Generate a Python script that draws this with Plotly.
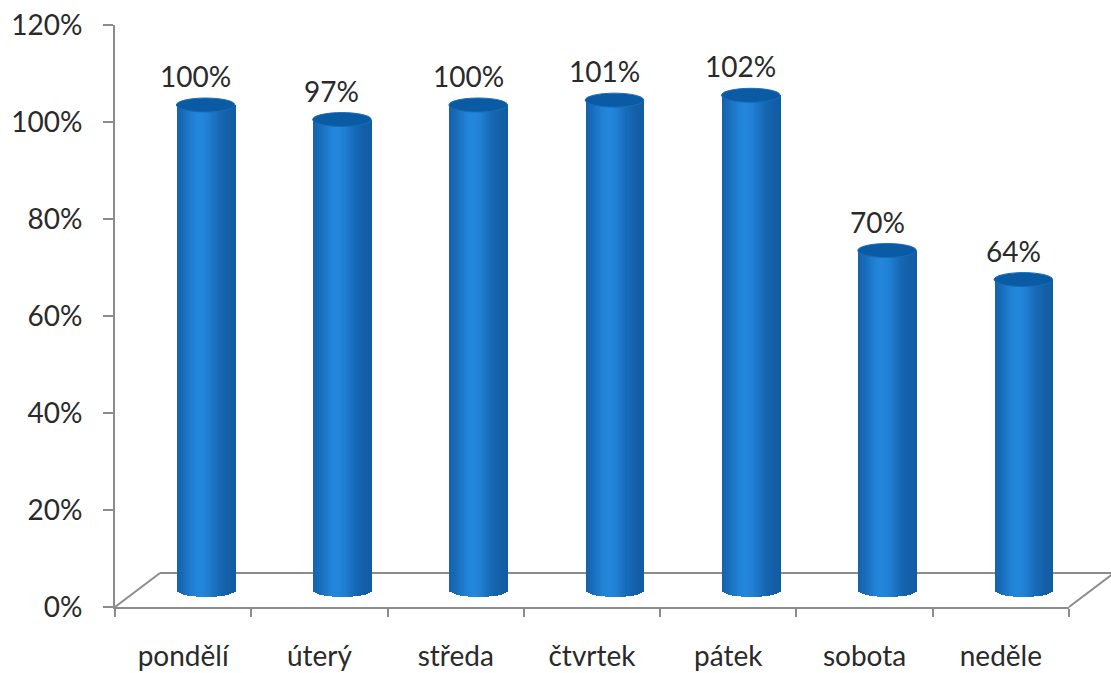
import math
import plotly.graph_objects as go

# ---- data ----
days = ["pondělí", "úterý", "středa", "čtvrtek", "pátek", "sobota", "neděle"]
values = [100, 97, 100, 101, 102, 70, 64]
y_ticks = [0, 20, 40, 60, 80, 100, 120]
y_tick_text = ["0%", "20%", "40%", "60%", "80%", "100%", "120%"]

# ---- layout geometry ----
W, H = 1111, 673
ML, MR, MT, MB = 115, 0, 8, 66
PW, PH = W - ML - MR, H - MT - MB
AX_W = 954          # px width of front axis
AX_H = 582          # px height of y axis
DX, DY = 45, 34     # depth of 3D floor
YMAX = 120
px_per_unit = AX_H / YMAX

cyl_w = 0.43                     # cylinder width in category units
ell_h = 14 / px_per_unit         # ellipse height in data units
N = 28                           # slices for shading

FONT = "Lato"
FS = 28
TXT = "#2a2a2a"
AXC = "#8c8c8c"

def shade(u):
    # u in [-1, 1] across the cylinder
    edge = (8, 70, 135)
    peak = (35, 135, 220)
    t = math.exp(-((u + 0.2) ** 2) / 0.35)
    t = 0.35 + 0.65 * t
    c = [int(edge[k] + (peak[k] - edge[k]) * t) for k in range(3)]
    return f"rgb({c[0]},{c[1]},{c[2]})"

fig = go.Figure()

sw = cyl_w / N
for j in range(N):
    u = -1 + (2 * j + 1) / N
    sag = (ell_h / 2) * math.sqrt(max(0.0, 1 - u * u))
    off = -cyl_w / 2 + j * sw
    fig.add_trace(go.Bar(
        x=days, y=[v + sag for v in values], base=[-sag] * len(values),
        width=sw * 1.08, offset=off,
        marker=dict(color=shade(u), line=dict(width=0)),
        xaxis="x2", yaxis="y2", showlegend=False, hoverinfo="skip",
    ))

# invisible trace on main axes so they render
fig.add_trace(go.Scatter(x=days, y=[None] * len(days), xaxis="x", yaxis="y",
                         mode="markers", showlegend=False, hoverinfo="skip"))

shapes = []
# 3D floor
fx = DX / PW
fy = DY / PH
axr = AX_W / PW
shapes.append(dict(type="line", xref="paper", yref="paper", x0=fx, y0=fy, x1=axr + fx, y1=fy,
                   line=dict(color=AXC, width=2), layer="below"))
shapes.append(dict(type="line", xref="paper", yref="paper", x0=0, y0=0, x1=fx, y1=fy,
                   line=dict(color=AXC, width=2), layer="below"))
shapes.append(dict(type="line", xref="paper", yref="paper", x0=axr, y0=0, x1=axr + fx, y1=fy,
                   line=dict(color=AXC, width=2), layer="below"))

annotations = []
for i, v in enumerate(values):
    shapes.append(dict(type="circle", xref="x2", yref="y2",
                       x0=i - cyl_w / 2, x1=i + cyl_w / 2,
                       y0=v - ell_h / 2, y1=v + ell_h / 2,
                       fillcolor="#0b5aa4", line=dict(color="#1a6cb8", width=1), layer="above"))
    annotations.append(dict(x=i, y=v, xref="x2", yref="y2", text=f"{v}%",
                            showarrow=False, xshift=-10, yshift=29,
                            font=dict(family=FONT, size=FS, color=TXT)))

# secondary (cylinder) axes: shifted half the floor depth, value 0 sits DY/2 above the front axis
y2_lo = -(DY / 2) / px_per_unit

fig.update_layout(
    width=W, height=H,
    margin=dict(l=ML, r=MR, t=MT, b=MB, autoexpand=False),
    paper_bgcolor="white", plot_bgcolor="rgba(0,0,0,0)",
    barmode="overlay", bargap=0,
    shapes=shapes, annotations=annotations,
    font=dict(family=FONT, size=FS, color=TXT),
    xaxis=dict(domain=[0, axr], type="category", categoryorder="array", categoryarray=days,
               range=[-0.5, 6.5], showline=True, linecolor=AXC, linewidth=2,
               ticks="outside", tickson="boundaries", ticklen=8, tickwidth=2, tickcolor=AXC,
               showgrid=False, zeroline=False, anchor="y", ticklabelstandoff=23,
               automargin=False, tickfont=dict(family=FONT, size=FS, color=TXT)),
    yaxis=dict(domain=[0, AX_H / PH], range=[0, YMAX], tickvals=y_ticks, ticktext=y_tick_text,
               showline=True, linecolor=AXC, linewidth=2, ticks="outside", ticklen=10,
               tickwidth=2, tickcolor=AXC, showgrid=False, zeroline=False, anchor="x",
               ticklabelstandoff=15, automargin=False,
               tickfont=dict(family=FONT, size=FS, color=TXT)),
    xaxis2=dict(domain=[(DX / 2) / PW, (AX_W + DX / 2) / PW], type="category",
                categoryorder="array", categoryarray=days, range=[-0.5, 6.5],
                visible=False, anchor="y2", automargin=False),
    yaxis2=dict(domain=[0, (AX_H + DY / 2) / PH], range=[y2_lo, YMAX],
                visible=False, anchor="x2", automargin=False),
)

fig.write_html("out.html", config={"displayModeBar": False},
               post_script="document.body.style.margin='0';")
